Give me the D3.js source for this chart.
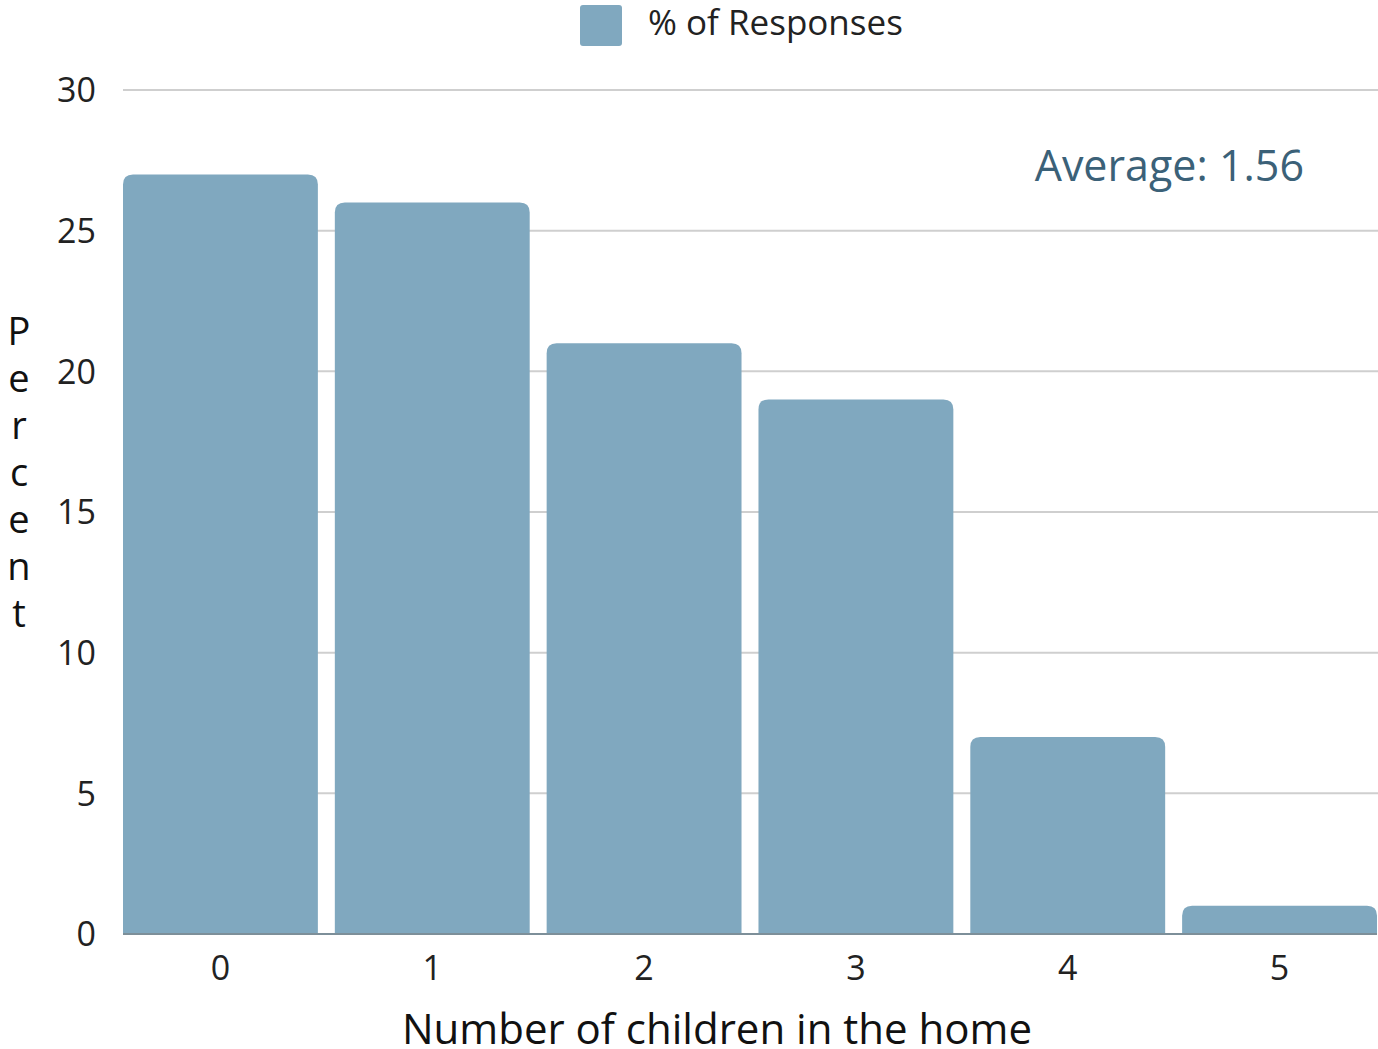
<!DOCTYPE html>
<html><head><meta charset="utf-8">
<script src="https://cdn.jsdelivr.net/npm/d3@7"></script>
<style>body{margin:0;background:#fff}svg{display:block;font-family:"Open Sans",sans-serif}</style>
</head><body><svg id="c" width="1378" height="1049"></svg>
<script>
const categories = ["0","1","2","3","4","5"];
const values = [27, 26, 21, 19, 7, 1];
const yTicks = [0,5,10,15,20,25,30];
const seriesName = "% of Responses";
const averageLabel = "Average: 1.56";
const xTitle = "Number of children in the home";
const yTitle = "Percent";

const svg = d3.select("#c");
const L = 123, R = 1377, T = 90, B = 934;
const x = d3.scaleBand().domain(categories).range([L, R]).paddingInner(0.08).paddingOuter(0);
const y = d3.scaleLinear().domain([0,30]).range([B, T]);

// gridlines
svg.append("g").selectAll("line").data(yTicks.filter(d=>d>0)).join("line")
  .attr("x1", L).attr("x2", 1378).attr("y1", d=>y(d)).attr("y2", d=>y(d))
  .attr("stroke", "#cfcfcf").attr("stroke-width", 2);

// y tick labels
svg.append("g").selectAll("text").data(yTicks).join("text")
  .attr("x", 96).attr("y", d=>y(d)).attr("dy", "0.36em")
  .attr("text-anchor", "end").attr("font-size", 34).attr("fill", "#222").text(d=>d);

// bars
const r = 10;
svg.append("g").selectAll("path").data(values).join("path")
  .attr("d", (d,i) => {
    const x0 = x(categories[i]), w = x.bandwidth(), y0 = y(d), y1 = y(0);
    const rr = Math.min(r, (y1-y0));
    return `M${x0},${y1}V${y0+rr}Q${x0},${y0} ${x0+rr},${y0}H${x0+w-rr}Q${x0+w},${y0} ${x0+w},${y0+rr}V${y1}Z`;
  })
  .attr("fill", "#80a8bf");

// baseline
svg.append("line").attr("x1", L).attr("x2", R).attr("y1", B).attr("y2", B)
  .attr("stroke", "#7d8f99").attr("stroke-width", 2);

// x tick labels
svg.append("g").selectAll("text").data(categories).join("text")
  .attr("x", d=>x(d)+x.bandwidth()/2).attr("y", 980)
  .attr("text-anchor", "middle").attr("font-size", 34).attr("fill", "#222").text(d=>d);

// x title
svg.append("text").attr("x", 717).attr("y", 1044).attr("text-anchor", "middle")
  .attr("font-size", 42).attr("fill", "#111").text(xTitle);

// y title stacked
svg.append("g").selectAll("text").data(yTitle.split("")).join("text")
  .attr("x", 19).attr("y", (d,i)=>345 + i*47).attr("text-anchor", "middle")
  .attr("font-size", 38).attr("fill", "#111").text(d=>d);

// average label
svg.append("text").attr("x", 1304).attr("y", 181).attr("text-anchor", "end")
  .attr("font-size", 43).attr("fill", "#3b6178").text(averageLabel);

// legend
svg.append("rect").attr("x", 580).attr("y", 5).attr("width", 42).attr("height", 41).attr("rx", 3)
  .attr("fill", "#80a8bf");
svg.append("text").attr("x", 648).attr("y", 35).attr("font-size", 35).attr("fill", "#222").text(seriesName);
</script></body></html>
